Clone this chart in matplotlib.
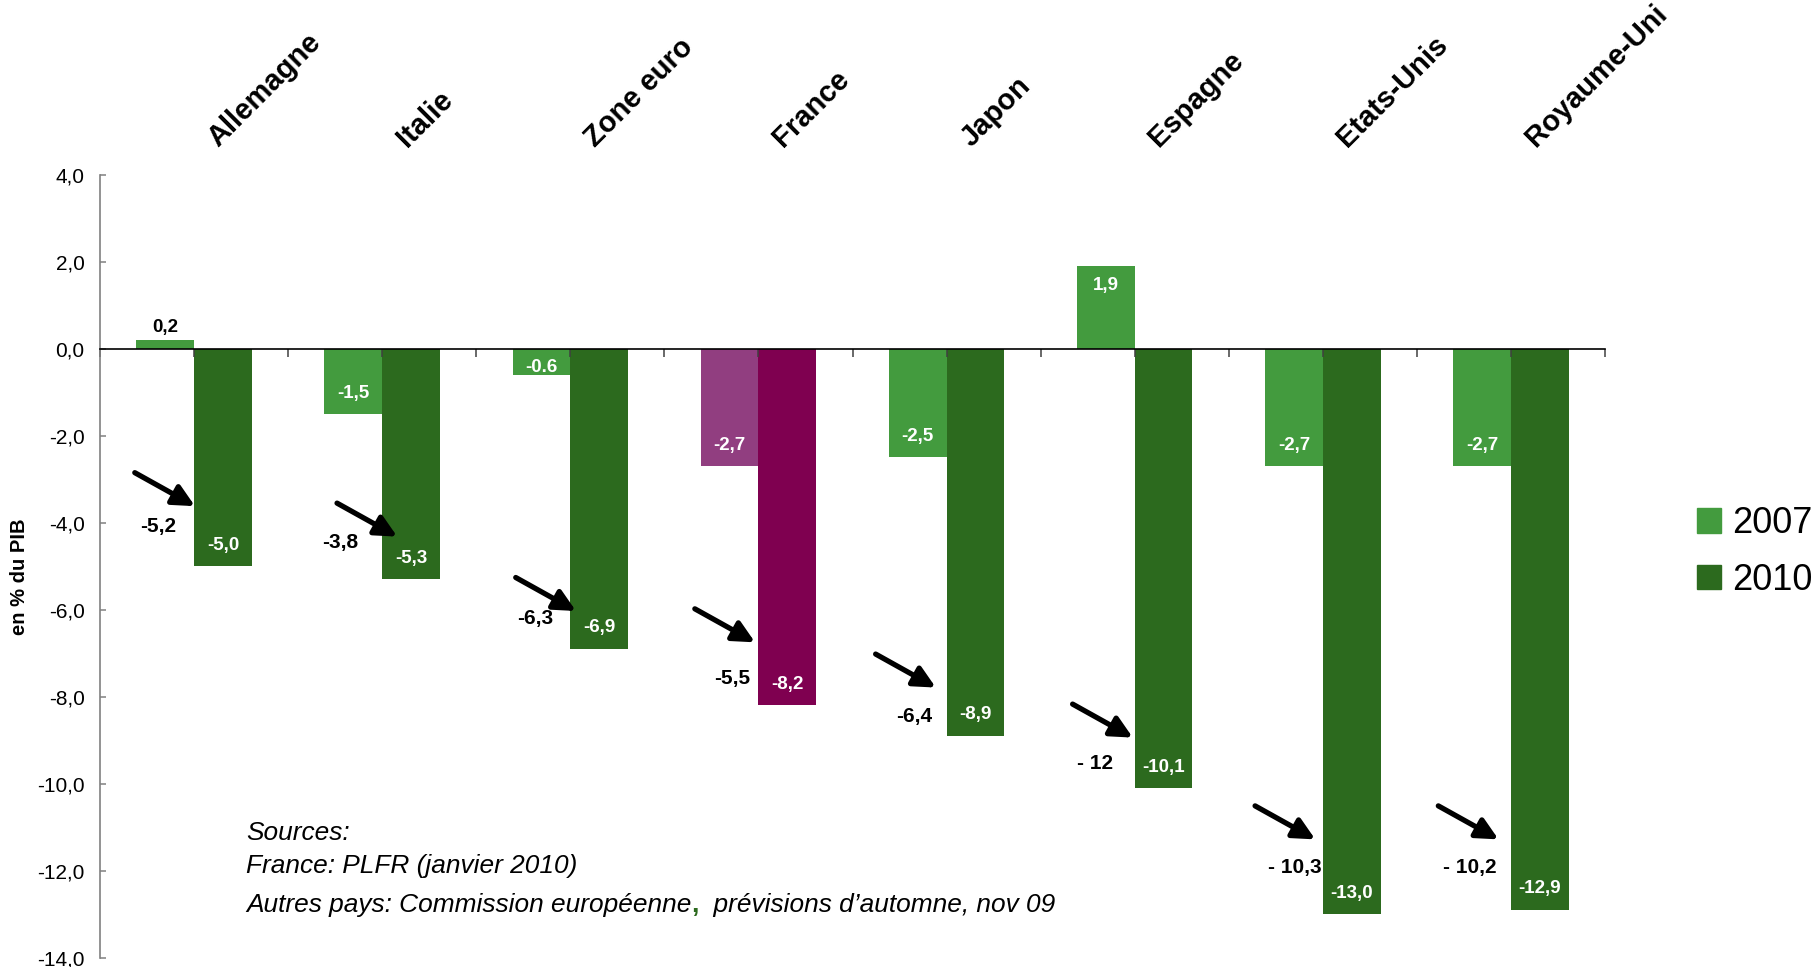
import numpy as np
import matplotlib.pyplot as plt
from matplotlib.patches import Patch
from matplotlib.ticker import FuncFormatter

plt.rcParams['font.family'] = ['Liberation Sans', 'DejaVu Sans']

# donnees (en % du PIB)
pays = ["Allemagne", "Italie", "Zone euro", "France", "Japon", "Espagne", "Etats-Unis", "Royaume-Uni"]
solde_2007 = [0.2, -1.5, -0.6, -2.7, -2.5, 1.9, -2.7, -2.7]
solde_2010 = [-5.0, -5.3, -6.9, -8.2, -8.9, -10.1, -13.0, -12.9]
etiq_2007 = ["0,2", "-1,5", "-0.6", "-2,7", "-2,5", "1,9", "-2,7", "-2,7"]
etiq_2010 = ["-5,0", "-5,3", "-6,9", "-8,2", "-8,9", "-10,1", "-13,0", "-12,9"]
etiq_2009 = ["-5,2", "-3,8", "-6,3", "-5,5", "-6,4", "- 12", "- 10,3", "- 10,2"]

# placement des fleches et des etiquettes 2009 (pose a la main sur l'original)
fleche_dx = [0.005, 0.08, 0.03, -0.018, -0.057, -0.01, -0.04, -0.066]
fleche_y = [-3.62, -4.32, -6.03, -6.75, -7.79, -8.94, -11.28, -11.28]
etiq09_dx = [-0.193, -0.224, -0.185, -0.138, -0.173, -0.211, -0.15, -0.22]
etiq09_y = [-4.09, -4.46, -6.21, -7.58, -8.46, -9.54, -11.93, -11.93]

vert_clair = "#439B3E"
vert_fonce = "#2C6A1E"
violet_clair = "#913E80"
violet_fonce = "#7F0050"

fig = plt.figure(figsize=(18.14, 9.67), dpi=100)
ax = fig.add_axes([100 / 1814, 1 - 957.7 / 967, 1505 / 1814, 783 / 967])

x = np.arange(len(pays))
w = 0.307
couleurs_07 = [violet_clair if p == "France" else vert_clair for p in pays]
couleurs_10 = [violet_fonce if p == "France" else vert_fonce for p in pays]
ax.bar(x - w / 2, solde_2007, w, color=couleurs_07)
ax.bar(x + w / 2, solde_2010, w, color=couleurs_10)

ax.set_xlim(-0.5, len(pays) - 0.5)
ax.set_ylim(-14, 4)
ax.set_yticks(np.arange(-14, 4.1, 2))
ax.yaxis.set_major_formatter(FuncFormatter(lambda v, p: f"{v:.1f}".replace(".", ",")))
ax.tick_params(axis='y', direction='in', length=4, width=1.1, color='#808080',
               labelsize=15, pad=11)
ax.set_xticks(np.arange(-0.5, len(pays), 0.5))
ax.set_xticklabels([])
ax.tick_params(axis='x', direction='out', length=6, width=1.1, color='#404040')

for s in ['top', 'right']:
    ax.spines[s].set_visible(False)
ax.spines['left'].set_color('#808080')
ax.spines['left'].set_linewidth(1.2)
ax.spines['bottom'].set_position(('data', 0))
ax.spines['bottom'].set_color('black')
ax.spines['bottom'].set_linewidth(1.2)
ax.spines['bottom'].set_zorder(3)

# etiquettes des barres
for i, v in enumerate(solde_2007):
    if 0 < v < 0.5:
        y, c = v + 0.28, 'black'
    elif v > 0:
        y, c = v - 0.44, 'white'
    elif v > -1:
        y, c = v + 0.16, 'white'
    else:
        y, c = v + 0.48, 'white'
    ax.text(i - w / 2, y, etiq_2007[i], ha='center', va='center', color=c,
            fontsize=13.5, fontweight='bold')
for i, v in enumerate(solde_2010):
    ax.text(i + w / 2, v + 0.48, etiq_2010[i], ha='center', va='center', color='white',
            fontsize=13.5, fontweight='bold')

# fleches et valeurs 2009
for i in range(len(pays)):
    tip = (i + fleche_dx[i], fleche_y[i])
    ax.annotate("", xy=tip, xytext=(tip[0] - 0.32, tip[1] + 0.77),
                arrowprops=dict(arrowstyle='-|>,head_length=0.65,head_width=0.32',
                                mutation_scale=20, lw=3.8, color='black',
                                shrinkA=0, shrinkB=0))
    ax.text(i + etiq09_dx[i], etiq09_y[i], etiq_2009[i], ha='center', va='center',
            fontsize=15, fontweight='bold', color='black')

# noms des pays en haut
for i, p in enumerate(pays):
    ax.text(i + 0.13, 4.61, p, rotation=45, rotation_mode='anchor', ha='left',
            va='baseline', fontsize=21, fontweight='bold', clip_on=False)

fig.text(20 / 1814, 1 - 577 / 967, "en % du PIB", rotation=90, ha='center', va='center',
         fontsize=14.5, fontweight='bold')

# legende
fig.legend(handles=[Patch(color=vert_clair), Patch(color=vert_fonce)], labels=["2007", "2010"],
           loc='upper left', bbox_to_anchor=(1697 / 1814, 1 - 506 / 967),
           bbox_transform=fig.transFigure, frameon=False, fontsize=26,
           borderpad=0, borderaxespad=0, handlelength=0.67, handleheight=0.67,
           handletextpad=0.3, labelspacing=0.6)

# sources
x0 = 246 / 1814
taille = 18.9
fig.text(x0, 1 - 840 / 967, "Sources:", fontsize=taille, style='italic', va='baseline')
fig.text(x0, 1 - 873 / 967, "France: PLFR (janvier 2010)", fontsize=taille, style='italic', va='baseline')
ya = 1 - 912 / 967
t1 = fig.text(x0, ya, "Autres pays: Commission européenne", fontsize=taille, style='italic', va='baseline')
fig.canvas.draw()
r = fig.canvas.get_renderer()
x1 = t1.get_window_extent(r).x1 / fig.bbox.width
t2 = fig.text(x1, ya, ",", fontsize=taille, fontweight='bold', color=vert_fonce, va='baseline')
x2 = t2.get_window_extent(r).x1 / fig.bbox.width
fig.text(x2, ya, "  prévisions d’automne, nov 09", fontsize=taille, style='italic', va='baseline')

fig.savefig("out.png", dpi=100, facecolor='white')
